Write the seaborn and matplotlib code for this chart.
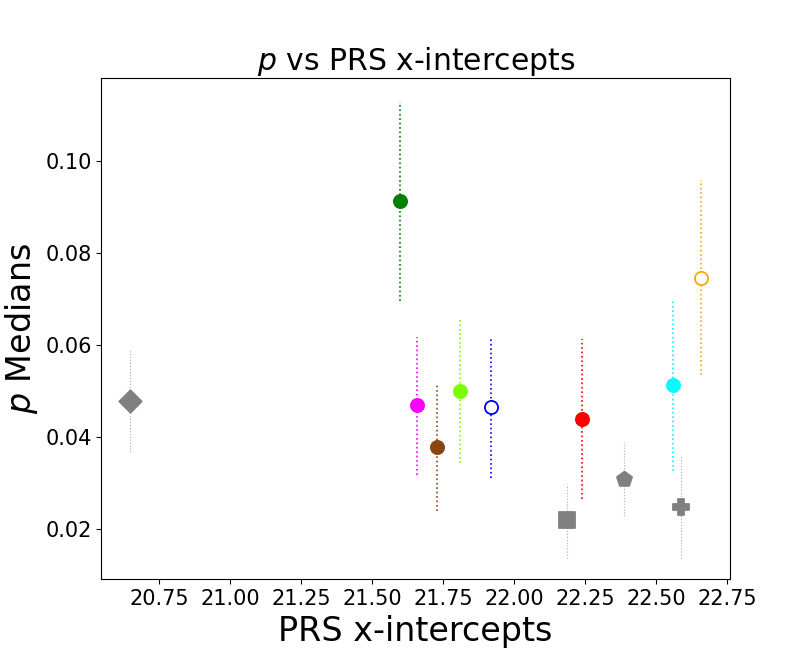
import numpy as np
import pandas as pd
import seaborn as sns
import matplotlib
matplotlib.use("Agg")
import matplotlib.pyplot as plt

# x-intercepts, medians and interval ends
x_int = [20.648, 21.597, 21.660, 21.727, 21.808, 21.920, 22.188, 22.240, 22.388, 22.560, 22.588, 22.659]
p_med = [0.0479, 0.0913, 0.0470, 0.0379, 0.0500, 0.0466, 0.0219, 0.0440, 0.0309, 0.0513, 0.0249, 0.0746]
p_lo = [0.0367, 0.0696, 0.0318, 0.0239, 0.0343, 0.0312, 0.0138, 0.0266, 0.0228, 0.0326, 0.0138, 0.0534]
p_hi = [0.0589, 0.1127, 0.0617, 0.0514, 0.0657, 0.0618, 0.0299, 0.0612, 0.0390, 0.0696, 0.0359, 0.0958]
colors = ["gray", "green", "magenta", "saddlebrown", "lawngreen", "blue",
          "gray", "red", "gray", "cyan", "gray", "orange"]
markers = ["D", "o", "o", "o", "o", "o", "s", "o", "p", "o", "P", "o"]
filled = [True, True, True, True, True, False, True, True, True, True, True, False]

df = pd.DataFrame({"x": x_int, "p": p_med, "lo": p_lo, "hi": p_hi,
                   "color": colors, "marker": markers, "filled": filled})

fig, ax = plt.subplots(figsize=(8.11, 6.51), dpi=100)

for i, row in df.iterrows():
    grey = row["color"] == "gray"
    eb = ax.errorbar(row["x"], row["p"], yerr=[[row["p"] - row["lo"]], [row["hi"] - row["p"]]],
                     fmt="none", ecolor="darkgray" if grey else row["color"],
                     elinewidth=0.8 if grey else 1.2, capsize=0, zorder=1)
    # dotted bars like the original
    eb[2][0].set_linestyle(":")
    # filled markers vs open circles
    if row["filled"]:
        fc = row["color"]
    else:
        fc = "white"
    sz = 130 if grey else 90
    sns.scatterplot(x=[row["x"]], y=[row["p"]], marker=row["marker"], s=sz,
                    color=fc, edgecolor=row["color"], linewidth=1.3, ax=ax, zorder=3)

ax.set_title(r"$p$ vs PRS x-intercepts", fontsize=21.5)
ax.set_xlabel("PRS x-intercepts", fontsize=24)
ax.set_ylabel(r"$p$ Medians", fontsize=24)
ax.tick_params(labelsize=15)
ax.set_xlim(20.547, 22.760)
ax.set_ylim(0.0091, 0.1179)

plt.savefig("out.png", dpi=100)
